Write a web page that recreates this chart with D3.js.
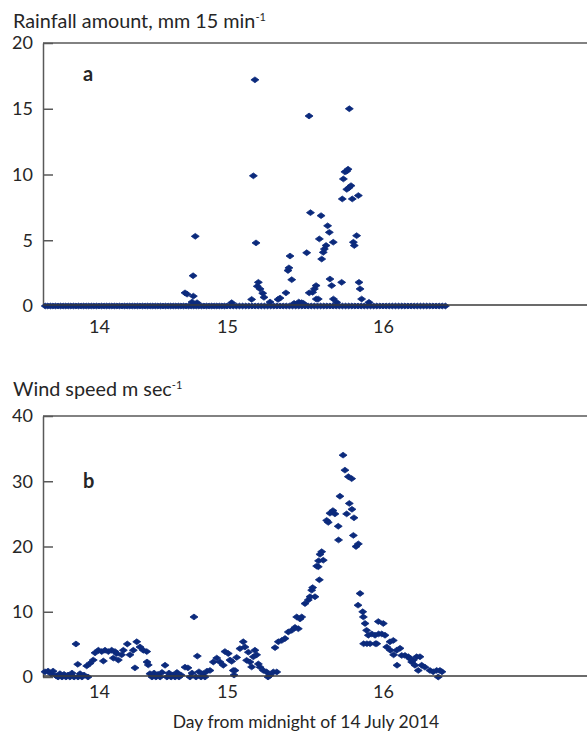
<!DOCTYPE html>
<html>
<head>
<meta charset="utf-8">
<script src="https://cdn.jsdelivr.net/npm/d3@7"></script>
<style>
  body { margin: 0; background: #fff; }
  svg text { font-family: Lato, "Open Sans", sans-serif; fill: #262626; }
</style>
</head>
<body>
<div id="chart"></div>
<script>
// days counted from midnight of 14 July 2014 (14 = 14 July)
const dayTicks = [14, 15, 16];
const rainTicks = [0, 5, 10, 15, 20];
const windTicks = [0, 10, 20, 30, 40];

// rainfall, mm per 15 min: [day, mm] for the readings above zero
const rainfall = [
  [14.672, 1.0], [14.688, 0.9], [14.727, 0.3], [14.737, 0.75], [14.735, 2.3], [14.752, 5.3], [14.766, 0.25],
  [15.030, 0.25], [15.158, 0.5], [15.169, 9.9], [15.179, 17.2], [15.186, 4.8], [15.194, 1.5], [15.201, 1.8],
  [15.212, 1.3], [15.229, 0.97], [15.237, 0.66], [15.276, 0.3], [15.327, 0.5], [15.340, 0.6], [15.378, 1.0],
  [15.391, 2.7], [15.397, 2.9], [15.404, 3.8], [15.415, 2.0], [15.43, 0.2], [15.46, 0.3], [15.479, 0.25],
  [15.49, 0.2], [15.511, 4.05], [15.526, 14.45], [15.527, 1.0], [15.535, 7.1], [15.549, 1.04], [15.560, 1.3],
  [15.571, 1.55], [15.572, 0.53], [15.585, 0.53], [15.592, 5.1], [15.603, 6.87], [15.607, 3.57], [15.617, 4.08],
  [15.624, 4.33], [15.635, 4.6], [15.645, 6.1], [15.656, 5.6], [15.660, 2.05], [15.671, 1.55], [15.681, 4.85],
  [15.682, 0.53], [15.703, 0.28], [15.735, 1.8], [15.739, 8.14], [15.746, 9.66], [15.756, 10.2], [15.767, 10.25],
  [15.768, 8.87], [15.776, 10.4], [15.782, 9.0], [15.784, 15.0], [15.795, 9.15], [15.803, 8.14], [15.810, 4.85],
  [15.816, 4.6], [15.831, 5.35], [15.842, 8.4], [15.846, 1.8], [15.853, 1.3], [15.863, 0.53], [15.910, 0.28]
];

// days at which the rainfall reading is zero
const rainZeroDays = [
  13.58, 13.60, 13.62, 13.64, 13.66, 13.68, 13.70, 13.72, 13.74, 13.76, 13.78, 13.80, 13.82, 13.84, 13.86,
  13.88, 13.90, 13.92, 13.94, 13.96, 13.98, 14.00, 14.02, 14.04, 14.06, 14.08, 14.10, 14.12, 14.14, 14.16,
  14.18, 14.20, 14.22, 14.24, 14.26, 14.28, 14.30, 14.32, 14.34, 14.36, 14.38, 14.40, 14.42, 14.44, 14.46,
  14.48, 14.50, 14.52, 14.54, 14.56, 14.58, 14.60, 14.62, 14.64, 14.66, 14.68, 14.70, 14.72, 14.74, 14.76,
  14.78, 14.80, 14.82, 14.84, 14.86, 14.88, 14.90, 14.92, 14.94, 14.96, 14.98, 15.00, 15.02, 15.04, 15.06,
  15.08, 15.10, 15.12, 15.14, 15.16, 15.18, 15.20, 15.22, 15.24, 15.26, 15.28, 15.30, 15.32, 15.34, 15.36,
  15.38, 15.40, 15.42, 15.44, 15.46, 15.48, 15.50, 15.52, 15.54, 15.56, 15.58, 15.60, 15.62, 15.64, 15.66,
  15.68, 15.70, 15.72, 15.74, 15.76, 15.78, 15.80, 15.82, 15.84, 15.86, 15.88, 15.90, 15.92, 15.94, 15.96,
  15.98, 16.00, 16.02, 16.04, 16.06, 16.08, 16.10, 16.12, 16.14, 16.16, 16.18, 16.20, 16.22, 16.24, 16.26,
  16.28, 16.30, 16.32, 16.34, 16.36, 16.38, 16.40
];

// wind speed, m/s: [day, speed]
const windSpeed = [
  [13.578, 0.8], [13.602, 0.9], [13.625, 0.5], [13.641, 0.9], [13.664, 0.2], [13.680, 0.0], [13.695, 0.5],
  [13.711, 0.0], [13.727, 0.4], [13.742, 0.0], [13.758, 0.3], [13.773, 0.0], [13.789, 0.6], [13.805, 0.0],
  [13.820, 5.06], [13.834, 1.95], [13.836, 0.0], [13.852, 0.5], [13.867, 0.0], [13.883, 0.3], [13.904, 1.7],
  [13.914, 0.0], [13.930, 2.1], [13.955, 2.6], [13.969, 3.7], [13.995, 4.1], [14.021, 3.9], [14.034, 2.45],
  [14.047, 4.1], [14.073, 3.9], [14.099, 4.1], [14.112, 2.9], [14.125, 3.9], [14.138, 3.6], [14.151, 2.6],
  [14.177, 3.4], [14.190, 4.1], [14.221, 5.06], [14.242, 3.4], [14.268, 4.1], [14.281, 1.4], [14.295, 5.4],
  [14.320, 4.6], [14.346, 4.1], [14.373, 3.9], [14.375, 2.3], [14.385, 1.85], [14.398, 0.5], [14.414, 0.0],
  [14.430, 0.6], [14.445, 0.0], [14.461, 0.4], [14.477, 0.0], [14.492, 0.7], [14.516, 1.8], [14.531, 0.0],
  [14.547, 0.6], [14.563, 0.0], [14.578, 0.3], [14.594, 0.0], [14.609, 0.7], [14.625, 0.0], [14.641, 0.3],
  [14.672, 1.5], [14.695, 1.4], [14.711, 0.0], [14.727, 0.6], [14.742, 9.2], [14.758, 0.0], [14.768, 3.2],
  [14.781, 0.8], [14.797, 0.0], [14.813, 0.5], [14.828, 0.0], [14.844, 0.9], [14.867, 1.0], [14.893, 2.3],
  [14.920, 2.9], [14.945, 2.3], [14.971, 1.8], [14.984, 3.9], [15.008, 3.6], [15.019, 2.6], [15.030, 2.4],
  [15.040, 1.0], [15.045, 0.3], [15.051, 1.0], [15.062, 3.0], [15.083, 4.35], [15.104, 5.4], [15.115, 4.6],
  [15.126, 2.55], [15.137, 3.8], [15.147, 2.3], [15.158, 1.54], [15.169, 3.1], [15.179, 4.1], [15.190, 3.4],
  [15.201, 2.0], [15.212, 1.5], [15.233, 1.0], [15.254, 0.77], [15.263, 0.0], [15.276, 0.26], [15.297, 0.77],
  [15.308, 4.5], [15.319, 0.77], [15.329, 5.4], [15.351, 5.6], [15.372, 5.9], [15.393, 6.9], [15.415, 7.15],
  [15.436, 7.6], [15.447, 9.2], [15.457, 7.4], [15.468, 8.9], [15.479, 9.2], [15.500, 11.25], [15.521, 11.8],
  [15.532, 12.3], [15.543, 13.3], [15.549, 13.7], [15.564, 12.3], [15.575, 17.0], [15.585, 16.9], [15.587, 17.8],
  [15.592, 14.9], [15.596, 18.8], [15.607, 19.2], [15.617, 17.9], [15.639, 24.0], [15.649, 23.7], [15.660, 25.1],
  [15.679, 25.5], [15.692, 25.0], [15.713, 23.1], [15.715, 21.0], [15.724, 27.7], [15.744, 34.0], [15.756, 31.7],
  [15.767, 25.0], [15.778, 30.7], [15.784, 26.6], [15.799, 30.4], [15.801, 25.7], [15.810, 21.7], [15.814, 24.4],
  [15.827, 20.0], [15.842, 20.4], [15.840, 11.0], [15.853, 12.8], [15.870, 10.0], [15.874, 9.2], [15.876, 5.1],
  [15.885, 8.2], [15.895, 7.15], [15.897, 5.1], [15.906, 6.4], [15.917, 5.1], [15.928, 6.6], [15.949, 6.4],
  [15.951, 5.1], [15.960, 5.1], [15.970, 8.5], [15.972, 6.6], [15.992, 6.6], [16.002, 8.2], [16.013, 6.4],
  [16.024, 4.6], [16.045, 5.4], [16.047, 4.1], [16.066, 5.6], [16.068, 3.4], [16.088, 4.1], [16.090, 1.8],
  [16.109, 4.4], [16.120, 3.3], [16.141, 3.3], [16.162, 3.1], [16.173, 2.8], [16.184, 2.3], [16.194, 2.6],
  [16.205, 1.8], [16.216, 3.1], [16.226, 1.0], [16.237, 3.1], [16.248, 1.8], [16.269, 1.5], [16.301, 1.0],
  [16.322, 0.8], [16.344, 1.0], [16.354, 0.0], [16.365, 1.0], [16.378, 0.8]
];

const width = 587, height = 734;
const left = 43, right = 587;
const markerColor = "#0b2a7c";
const axisColor = "#595959";
const marker = "M-4,0L0,-2.9L4,0L0,2.9Z";

const svg = d3.select("#chart").append("svg")
  .attr("width", width)
  .attr("height", height);

// the day labels of the original are not evenly spaced, so the scale is piecewise
const x = d3.scaleLinear().domain(dayTicks).range([99, 227, 383]);

function drawPanel(cfg) {
  const y = d3.scaleLinear().domain([0, d3.max(cfg.ticks)]).range([cfg.bottom, cfg.top]);
  const g = svg.append("g");

  // y axis, ticks pointing into the plot
  const yAxis = g.append("g")
    .attr("transform", `translate(${left},0)`)
    .call(d3.axisLeft(y).tickValues(cfg.ticks).tickSizeInner(-10).tickSizeOuter(0).tickPadding(10));
  yAxis.select(".domain").attr("stroke", axisColor).attr("stroke-width", 1.5);
  yAxis.selectAll(".tick line").attr("stroke", axisColor).attr("stroke-width", 1.5);
  yAxis.selectAll(".tick text").attr("font-size", 18).attr("fill", "#262626")
    .style("font-family", "Lato, sans-serif");

  // top border
  g.append("line")
    .attr("x1", left).attr("x2", right)
    .attr("y1", cfg.top).attr("y2", cfg.top)
    .attr("stroke", axisColor).attr("stroke-width", 1.5);

  // points
  g.append("g").selectAll("path")
    .data(cfg.data)
    .join("path")
    .attr("d", marker)
    .attr("transform", d => `translate(${x(d[0])},${y(d[1])})`)
    .attr("fill", markerColor)
    .attr("stroke", markerColor)
    .attr("stroke-width", 0.8)
    .attr("stroke-linejoin", "round");

  // x axis
  const xAxis = g.append("g")
    .attr("transform", `translate(0,${cfg.bottom})`)
    .call(d3.axisBottom(x).tickValues(dayTicks).tickFormat(d3.format("d")).tickSize(0).tickPadding(cfg.xPad));
  xAxis.select(".domain").remove();
  xAxis.selectAll(".tick text").attr("font-size", 18).attr("fill", "#262626")
    .style("font-family", "Lato, sans-serif");
  g.append("line")
    .attr("x1", left).attr("x2", right)
    .attr("y1", cfg.bottom - 1).attr("y2", cfg.bottom - 1)
    .attr("stroke", "#3a3a3a").attr("stroke-width", 1.5);

  // title with superscript
  const t = g.append("text")
    .attr("x", 13).attr("y", cfg.titleY)
    .attr("font-size", 19.8);
  t.append("tspan").text(cfg.title);
  t.append("tspan").attr("font-size", 11).attr("dy", -7).text("-1");

  g.append("text")
    .attr("x", 83).attr("y", cfg.letterY)
    .attr("font-size", 20)
    .attr("font-weight", "bold")
    .text(cfg.letter);
}

drawPanel({
  top: 43, bottom: 306, ticks: rainTicks, xPad: 14,
  data: rainZeroDays.map(d => [d, 0]).concat(rainfall),
  title: "Rainfall amount, mm 15 min", titleY: 28,
  letter: "a", letterY: 81
});

drawPanel({
  top: 416, bottom: 677, ticks: windTicks, xPad: 8,
  data: windSpeed,
  title: "Wind speed m sec", titleY: 396,
  letter: "b", letterY: 488
});

svg.append("text")
  .attr("x", 306).attr("y", 728)
  .attr("text-anchor", "middle")
  .attr("font-size", 17.5)
  .text("Day from midnight of 14 July 2014");
</script>
</body>
</html>
